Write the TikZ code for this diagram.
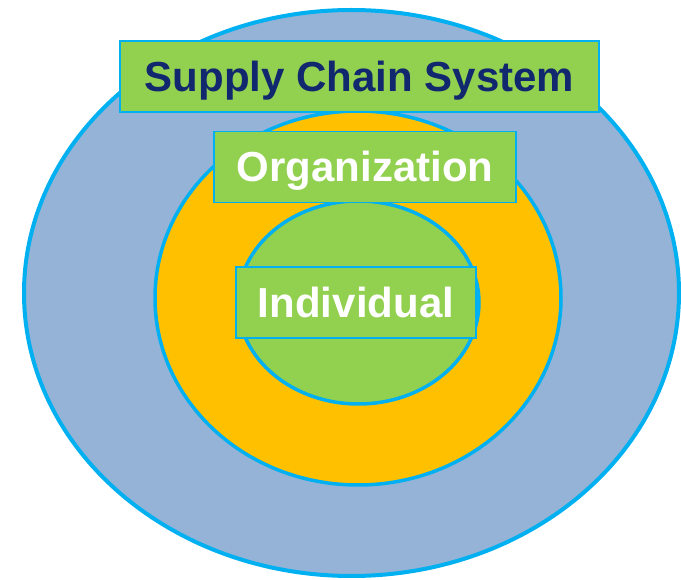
\documentclass[tikz,border=0pt]{standalone}
\usepackage{fontspec}
\setmainfont{Liberation Sans}
\usetikzlibrary{shapes.geometric}
\definecolor{ringline}{HTML}{00B0F0}
\definecolor{outerblue}{HTML}{95B3D7}
\definecolor{midorange}{HTML}{FFC000}
\definecolor{leafgreen}{HTML}{92D050}
\definecolor{navytext}{HTML}{12286E}
\tikzset{
  ring/.style={ellipse, draw=ringline, inner sep=0pt},
  label box/.style={rectangle, draw=ringline, line width=1.5pt, fill=leafgreen, inner sep=0pt,
    minimum height=71pt, text height=30pt, text depth=0pt,
    font=\fontsize{42}{42}\selectfont\bfseries}
}
\begin{document}
\begin{tikzpicture}[x=1pt,y=-1pt]
\useasboundingbox (0,0) rectangle (681,580);
\node[ring, line width=4pt, fill=outerblue, minimum width=655pt, minimum height=566pt] (outer) at (351.5,293) {};
\node[ring, line width=3.5pt, fill=midorange, minimum width=406pt, minimum height=374pt] (middle) at (358,298) {};
\node[ring, line width=3.5pt, fill=leafgreen, minimum width=241pt, minimum height=203pt] (inner) at (358.5,302.5) {};
\node[label box, minimum width=479pt, text=navytext] (supply) at (359.5,76.5) {Supply Chain System};
\node[label box, minimum width=302pt, text=white] (org) at (365,167) {Organization};
\node[label box, minimum width=240pt, text=white] (ind) at (356,302.5) {Individual};
\end{tikzpicture}
\end{document}
